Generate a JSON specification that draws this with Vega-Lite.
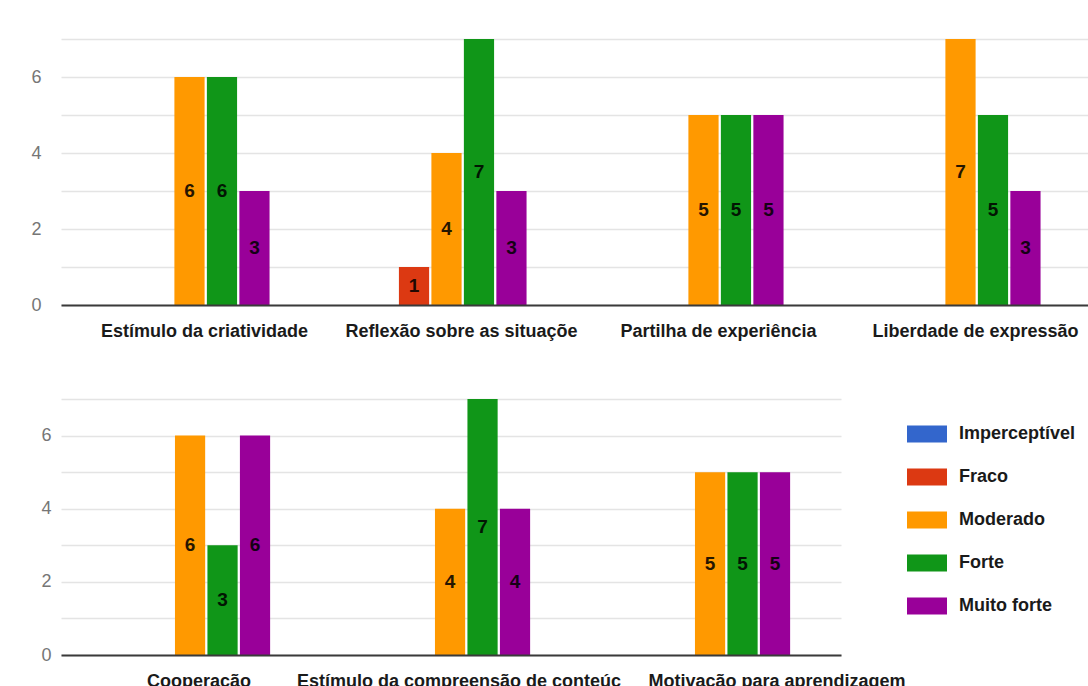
{
  "$schema": "https://vega.github.io/schema/vega-lite/v6.json",
  "background": "white",
  "padding": {"left": 30, "top": 39, "right": 0, "bottom": 0},
  "config": {
    "font": "Liberation Sans",
    "view": {"stroke": null}
  },
  "datasets": {
    "linha1": [
      {"aspeto": "Estímulo da criatividade", "nivel": "Moderado", "valor": 6},
      {"aspeto": "Estímulo da criatividade", "nivel": "Forte", "valor": 6},
      {"aspeto": "Estímulo da criatividade", "nivel": "Muito forte", "valor": 3},
      {"aspeto": "Reflexão sobre as situaçõe", "nivel": "Fraco", "valor": 1},
      {"aspeto": "Reflexão sobre as situaçõe", "nivel": "Moderado", "valor": 4},
      {"aspeto": "Reflexão sobre as situaçõe", "nivel": "Forte", "valor": 7},
      {"aspeto": "Reflexão sobre as situaçõe", "nivel": "Muito forte", "valor": 3},
      {"aspeto": "Partilha de experiência", "nivel": "Moderado", "valor": 5},
      {"aspeto": "Partilha de experiência", "nivel": "Forte", "valor": 5},
      {"aspeto": "Partilha de experiência", "nivel": "Muito forte", "valor": 5},
      {"aspeto": "Liberdade de expressão", "nivel": "Moderado", "valor": 7},
      {"aspeto": "Liberdade de expressão", "nivel": "Forte", "valor": 5},
      {"aspeto": "Liberdade de expressão", "nivel": "Muito forte", "valor": 3}
    ],
    "linha2": [
      {"aspeto": "Cooperação", "nivel": "Moderado", "valor": 6},
      {"aspeto": "Cooperação", "nivel": "Forte", "valor": 3},
      {"aspeto": "Cooperação", "nivel": "Muito forte", "valor": 6},
      {"aspeto": "Estímulo da compreensão de conteúc", "nivel": "Moderado", "valor": 4},
      {"aspeto": "Estímulo da compreensão de conteúc", "nivel": "Forte", "valor": 7},
      {"aspeto": "Estímulo da compreensão de conteúc", "nivel": "Muito forte", "valor": 4},
      {"aspeto": "Motivação para aprendizagem", "nivel": "Moderado", "valor": 5},
      {"aspeto": "Motivação para aprendizagem", "nivel": "Forte", "valor": 5},
      {"aspeto": "Motivação para aprendizagem", "nivel": "Muito forte", "valor": 5}
    ]
  },
  "align": "none",
  "spacing": 59,
  "resolve": {"scale": {"color": "independent"}, "legend": {"color": "independent"}},
  "vconcat": [
    {
      "width": 1028,
      "height": 266,
      "data": {"name": "linha1"},
      "encoding": {
        "x": {
          "field": "aspeto", "type": "nominal", "sort": null,
          "scale": {"paddingInner": 0.377, "paddingOuter": 0.1885},
          "axis": {
            "title": null, "zindex": 1, "domain": true, "domainColor": "#3a3a3a", "domainWidth": 2,
            "ticks": false, "labelAngle": 0, "labelFontSize": 18, "labelFontWeight": "bold",
            "labelColor": "#1a1a1a", "labelPadding": 17, "labelBaseline": "top",
            "labelLimit": 400, "labelOverlap": false, "labelOffset": 15
          }
        },
        "xOffset": {
          "field": "nivel", "type": "nominal",
          "scale": {"domain": ["Imperceptível", "Fraco", "Moderado", "Forte", "Muito forte"], "paddingInner": 0.07}
        }
      },
      "layer": [
        {
          "mark": {"type": "bar"},
          "encoding": {
            "y": {
              "field": "valor", "type": "quantitative",
              "scale": {"domain": [0, 7], "nice": false},
              "axis": {
                "title": null, "values": [0, 1, 2, 3, 4, 5, 6, 7],
                "labelExpr": "datum.value % 2 === 0 ? datum.label : ''",
                "grid": true, "gridColor": "#e4e4e4", "gridWidth": 1.5,
                "domain": false, "ticks": false, "labelFontSize": 18,
                "labelColor": "#767676", "labelPadding": 20
              }
            },
            "color": {
              "field": "nivel", "type": "nominal",
              "scale": {
                "domain": ["Imperceptível", "Fraco", "Moderado", "Forte", "Muito forte"],
                "range": ["#3366cc", "#dc3912", "#ff9900", "#109618", "#990099"]
              },
              "legend": null
            }
          }
        },
        {
          "mark": {"type": "text", "fontSize": 19, "fontWeight": "bold", "color": "#000", "opacity": 0.85, "baseline": "middle", "align": "center"},
          "encoding": {
            "y": {"field": "valor", "type": "quantitative", "scale": {"domain": [0, 14], "nice": false}, "axis": null},
            "text": {"field": "valor", "type": "quantitative"}
          }
        }
      ],
      "resolve": {"scale": {"y": "independent"}}
    },
    {
      "width": 780,
      "height": 256,
      "data": {"name": "linha2"},
      "encoding": {
        "x": {
          "field": "aspeto", "type": "nominal", "sort": null,
          "scale": {"paddingInner": 0.377, "paddingOuter": 0.1885},
          "axis": {
            "title": null, "zindex": 1, "domain": true, "domainColor": "#3a3a3a", "domainWidth": 2,
            "ticks": false, "labelAngle": 0, "labelFontSize": 18, "labelFontWeight": "bold",
            "labelColor": "#1a1a1a", "labelPadding": 17, "labelBaseline": "top",
            "labelLimit": 400, "labelOverlap": false,
            "labelOffset": {"condition": {"test": "datum.value === 'Motivação para aprendizagem'", "value": 66}, "value": 8}
          }
        },
        "xOffset": {
          "field": "nivel", "type": "nominal",
          "scale": {"domain": ["Imperceptível", "Fraco", "Moderado", "Forte", "Muito forte"], "paddingInner": 0.07}
        }
      },
      "layer": [
        {
          "mark": {"type": "bar"},
          "encoding": {
            "y": {
              "field": "valor", "type": "quantitative",
              "scale": {"domain": [0, 7], "nice": false},
              "axis": {
                "title": null, "values": [0, 1, 2, 3, 4, 5, 6, 7],
                "labelExpr": "datum.value % 2 === 0 ? datum.label : ''",
                "grid": true, "gridColor": "#e4e4e4", "gridWidth": 1.5,
                "domain": false, "ticks": false, "labelFontSize": 18,
                "labelColor": "#767676", "labelPadding": 10
              }
            },
            "color": {
              "field": "nivel", "type": "nominal",
              "scale": {
                "domain": ["Imperceptível", "Fraco", "Moderado", "Forte", "Muito forte"],
                "range": ["#3366cc", "#dc3912", "#ff9900", "#109618", "#990099"]
              },
              "legend": {
                "orient": "none", "legendX": 846, "legendY": 15, "title": null,
                "symbolType": "M-1,-0.42H1V0.42H-1Z", "symbolSize": 1600, "symbolStrokeWidth": 0,
                "labelFontSize": 18, "labelFontWeight": "bold", "labelColor": "#1a1a1a",
                "labelOffset": 12, "rowPadding": 14, "labelLimit": 250
              }
            }
          }
        },
        {
          "mark": {"type": "text", "fontSize": 19, "fontWeight": "bold", "color": "#000", "opacity": 0.85, "baseline": "middle", "align": "center"},
          "encoding": {
            "y": {"field": "valor", "type": "quantitative", "scale": {"domain": [0, 14], "nice": false}, "axis": null},
            "text": {"field": "valor", "type": "quantitative"}
          }
        }
      ],
      "resolve": {"scale": {"y": "independent"}}
    }
  ]
}
